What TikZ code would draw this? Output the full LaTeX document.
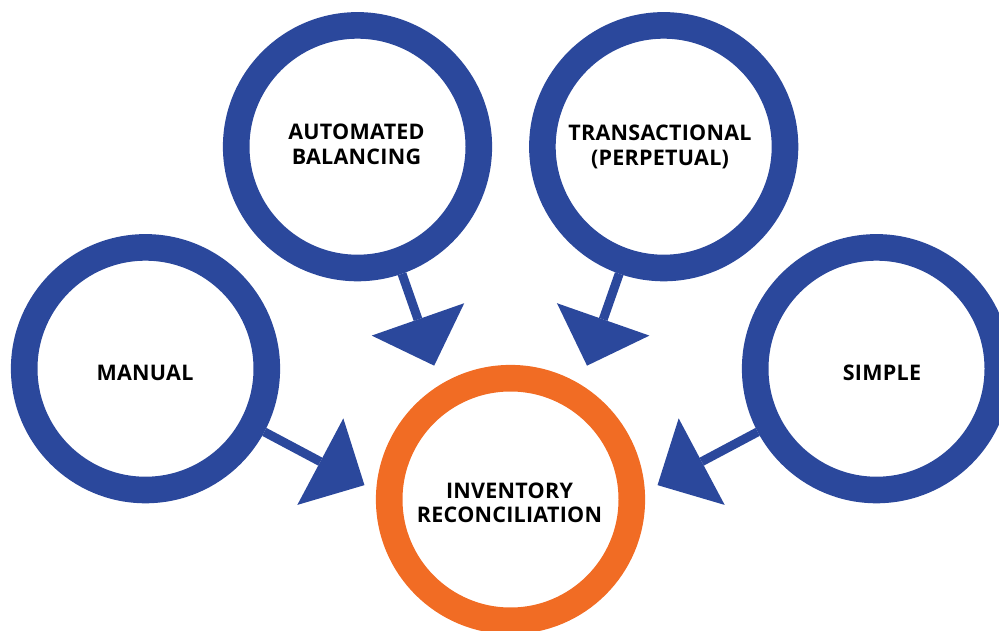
\documentclass[tikz,border=0pt]{standalone}
\usepackage{fontspec}
\setmainfont{Open Sans}
\newfontfamily\labfont[LetterSpace=1.2]{Open Sans}
\usetikzlibrary{calc}
\definecolor{ringblue}{HTML}{2B489C}
\definecolor{ringorange}{HTML}{F16C24}
\begin{document}
\begin{tikzpicture}[x=1pt,y=-1pt,
  ring/.style={circle,draw=#1,line width=26.6pt,minimum size=242.6pt,inner sep=0pt},
  lab/.style={font=\labfont\fontsize{21.5}{24.4}\selectfont\bfseries,align=center,inner sep=0pt,text=black},
  shaft/.style={draw=ringblue,line width=9pt},
  head/.style={fill=ringblue}]
\useasboundingbox (0,0) rectangle (999,631);
% circles
\node[ring=ringblue] (auto) at (357.5,146.7) {};
\node[ring=ringblue] (trans) at (663.7,146.7) {};
\node[ring=ringblue] (manual) at (145.5,368.7) {};
\node[ring=ringblue] (simple) at (876.5,368.7) {};
\node[ring=ringorange] (inv) at (510.5,499.5) {};
% labels
\node[lab] (autoT) at (356.5,144.5) {AUTOMATED\\BALANCING};
\node[lab] (transT) at (660,147) {TRANSACTIONAL\\(PERPETUAL)};
\node[lab] (manualT) at (145,373.3) {MANUAL};
\node[lab] (simpleT) at (882,373.3) {SIMPLE};
\node[lab] (invT) at (509.5,503) {INVENTORY\\RECONCILIATION};
% arrow geometry
\coordinate (aBase) at ($(auto)+(70.7:183)$);
\coordinate (aTip) at ($(auto)+(70.7:232)$);
\coordinate (tBase) at ($(trans)+(109.3:183)$);
\coordinate (tTip) at ($(trans)+(109.3:232)$);
\coordinate (mBase) at ($(manual)+(28:198)$);
\coordinate (mTip) at ($(manual)+(28:248)$);
\coordinate (sBase) at ($(simple)+(152:198)$);
\coordinate (sTip) at ($(simple)+(152:248)$);
% shafts
\draw[shaft] (auto) -- (aBase);
\draw[shaft] (trans) -- (tBase);
\draw[shaft] (manual) -- (mBase);
\draw[shaft] (simple) -- (sBase);
% heads
\fill[head] (aTip) -- ($(aBase)!49pt!90:(aTip)$) -- ($(aBase)!49pt!-90:(aTip)$) -- cycle;
\fill[head] (tTip) -- ($(tBase)!49pt!90:(tTip)$) -- ($(tBase)!49pt!-90:(tTip)$) -- cycle;
\fill[head] (mTip) -- ($(mBase)!49pt!90:(mTip)$) -- ($(mBase)!49pt!-90:(mTip)$) -- cycle;
\fill[head] (sTip) -- ($(sBase)!49pt!90:(sTip)$) -- ($(sBase)!49pt!-90:(sTip)$) -- cycle;
\end{tikzpicture}
\end{document}
